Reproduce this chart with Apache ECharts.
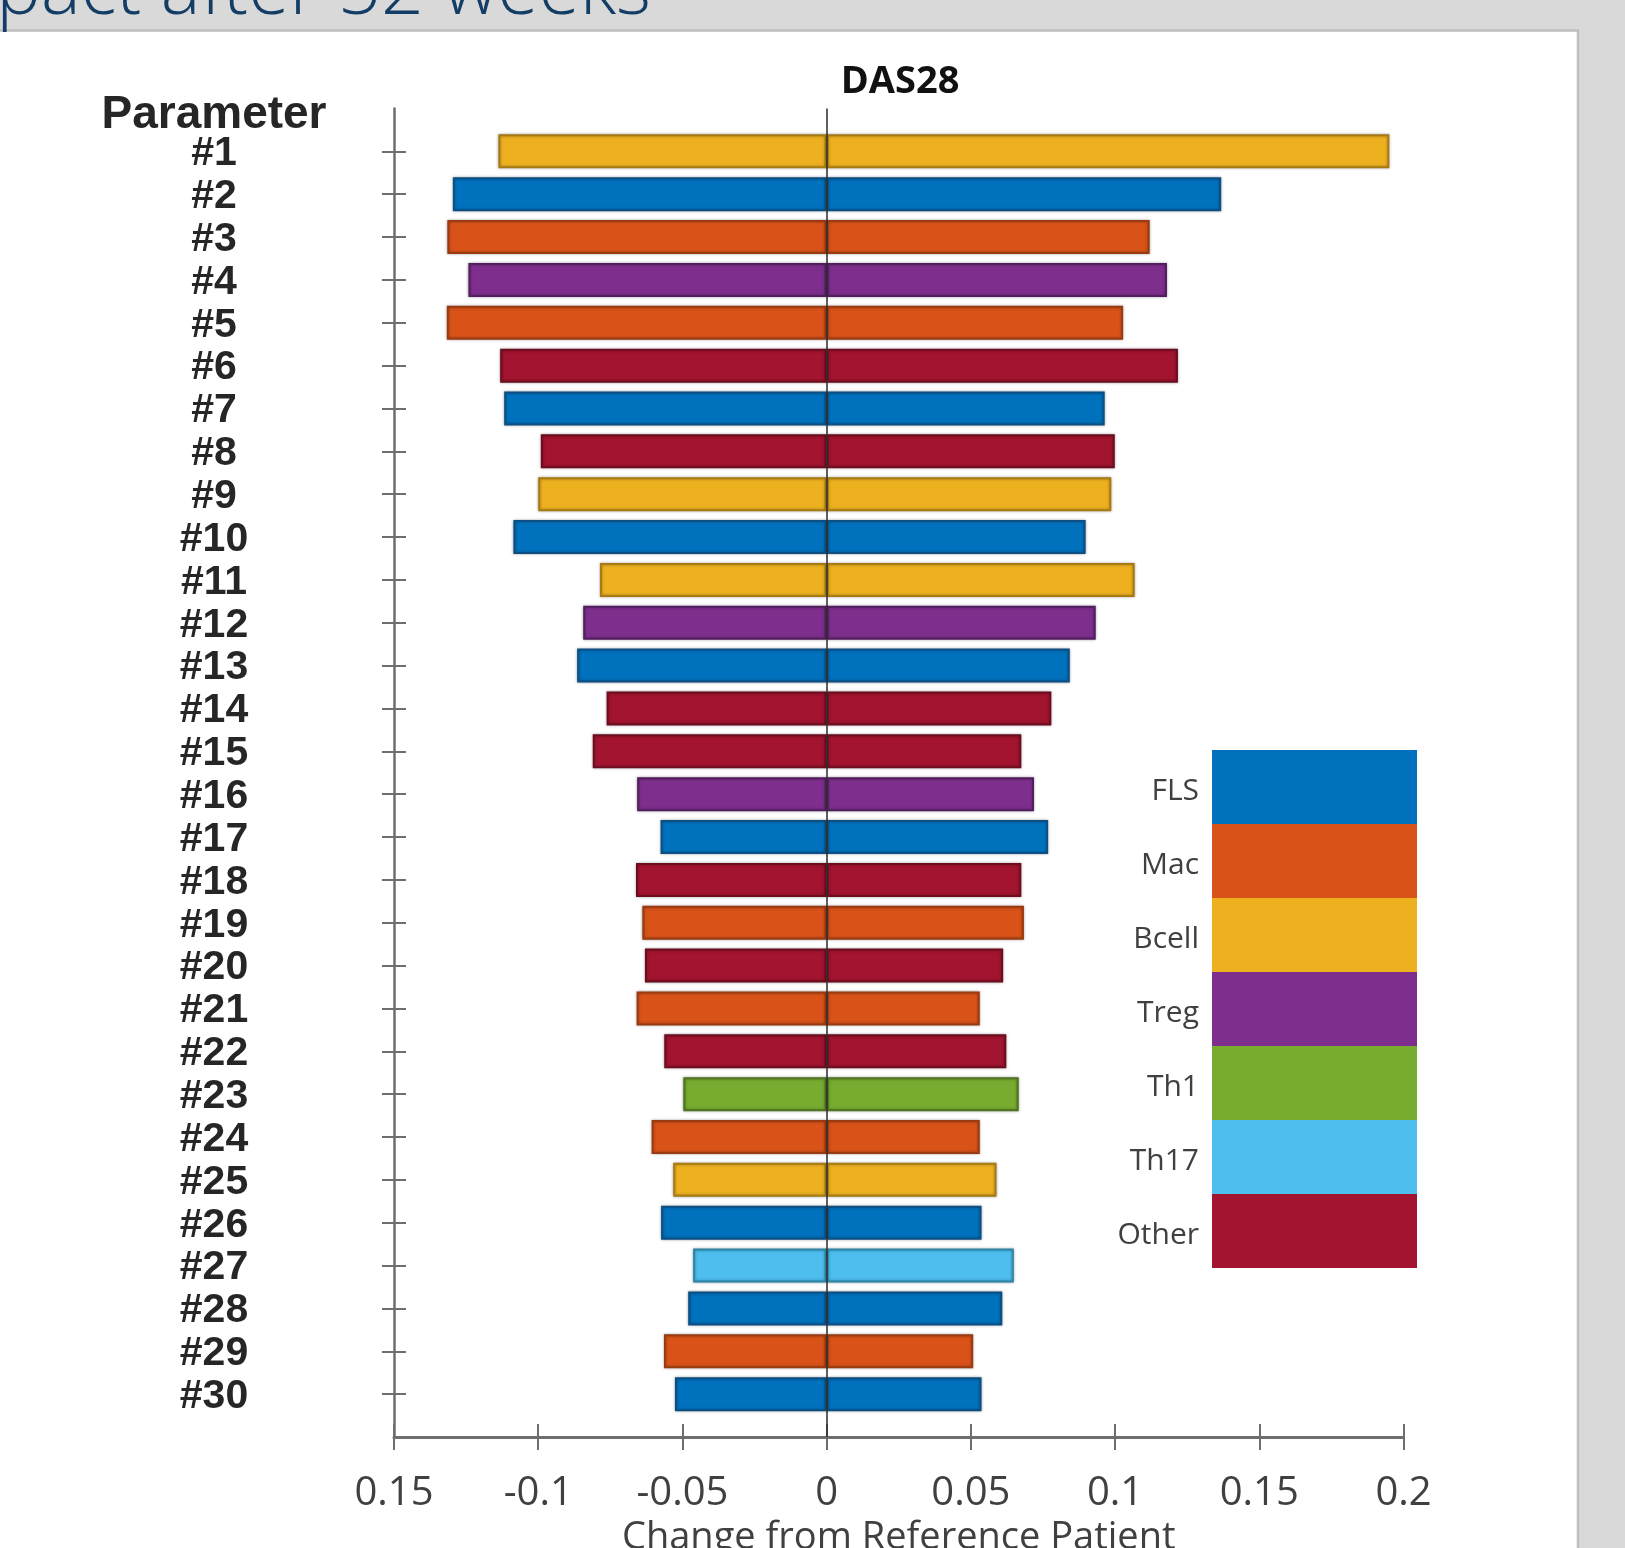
<!DOCTYPE html>
<html>
<head>
<meta charset="utf-8">
<title>DAS28 sensitivity</title>
<script src="https://cdn.jsdelivr.net/npm/echarts@6/dist/echarts.min.js"></script>
<style>
  html, body { margin: 0; padding: 0; background: #d9d9d9; }
  #chart { width: 1625px; height: 1548px; }
</style>
</head>
<body>
<div id="chart"></div>
<script>
// Parameters ranked by their effect on DAS28
const categories = ['#1', '#2', '#3', '#4', '#5', '#6', '#7', '#8', '#9', '#10',
  '#11', '#12', '#13', '#14', '#15', '#16', '#17', '#18', '#19', '#20',
  '#21', '#22', '#23', '#24', '#25', '#26', '#27', '#28', '#29', '#30'];

// Change from reference patient when the parameter is decreased / increased
const negChange = [-0.1138, -0.1296, -0.1315, -0.1242, -0.1317, -0.1132, -0.1118, -0.0991, -0.1000, -0.1086,
  -0.0786, -0.0844, -0.0865, -0.0763, -0.0811, -0.0657, -0.0576, -0.0661, -0.0639, -0.0630,
  -0.0659, -0.0563, -0.0497, -0.0607, -0.0532, -0.0574, -0.0463, -0.0480, -0.0564, -0.0526];
const posChange = [0.1951, 0.1368, 0.1120, 0.1180, 0.1028, 0.1218, 0.0964, 0.0999, 0.0987, 0.0898,
  0.1068, 0.0933, 0.0843, 0.0779, 0.0675, 0.0719, 0.0768, 0.0675, 0.0684, 0.0612,
  0.0531, 0.0623, 0.0666, 0.0531, 0.0589, 0.0537, 0.0649, 0.0609, 0.0508, 0.0537];

// Cell type each parameter belongs to
const cellType = ['Bcell', 'FLS', 'Mac', 'Treg', 'Mac', 'Other', 'FLS', 'Other', 'Bcell', 'FLS',
  'Bcell', 'Treg', 'FLS', 'Other', 'Other', 'Treg', 'FLS', 'Other', 'Mac', 'Other',
  'Mac', 'Other', 'Th1', 'Mac', 'Bcell', 'FLS', 'Th17', 'FLS', 'Mac', 'FLS'];

const groupNames = ['FLS', 'Mac', 'Bcell', 'Treg', 'Th1', 'Th17', 'Other'];
const groupColors = ['#0072bd', '#d95319', '#edb120', '#7e2f8e', '#77ac30', '#4dbeee', '#a2142f'];
const groupEdges = ['#0b4f85', '#9a3a10', '#a87b12', '#531e5e', '#4f7320', '#2d86a8', '#6d0d1f'];

const xTickLabels = ['0.15', '-0.1', '-0.05', '0', '0.05', '0.1', '0.15', '0.2'];

// Category axis padded by an empty slot at each end
const axisCats = [''].concat(categories, ['']);
const realSlot = (i) => i > 0 && i < axisCats.length - 1;

function pick(values, g) {
  return ['-'].concat(values.map((v, i) => (cellType[i] === g ? v : '-')), ['-']);
}

const series = [];
groupNames.forEach((g, gi) => {
  [negChange, posChange].forEach((vals) => {
    series.push({
      type: 'bar',
      name: g,
      stack: 'change',
      barWidth: 34,
      xAxisIndex: 0,
      yAxisIndex: 0,
      silent: true,
      itemStyle: {
        color: groupColors[gi],
        borderColor: groupEdges[gi],
        borderWidth: 2,
        shadowColor: 'rgba(0,0,0,0.32)',
        shadowBlur: 3
      },
      data: pick(vals, g)
    });
  });
});
// zero reference line over the bars
series[series.length - 1].markLine = {
  silent: true,
  symbol: ['none', 'none'],
  label: { show: false },
  lineStyle: { color: '#2a2a2a', width: 1.5, type: 'solid' },
  data: [{ xAxis: 0 }]
};

const labelFont = '"Open Sans", "DejaVu Sans", sans-serif';
const boldFont = '"Liberation Sans", Arial, sans-serif';

const xCommon = {
  type: 'value',
  min: -0.15,
  max: 0.2,
  interval: 0.05,
  position: 'bottom',
  splitLine: { show: false }
};
const yCommon = {
  type: 'category',
  data: axisCats,
  inverse: true,
  boundaryGap: false,
  position: 'left',
  splitLine: { show: false }
};

const option = {
  backgroundColor: '#d9d9d9',
  animation: false,
  grid: {
    left: 394, right: 221.5, top: 108.5, bottom: 111,
    containLabel: false,
    outerBoundsMode: 'none'
  },
  graphic: [
    {
      type: 'rect', z: -10, silent: true,
      shape: { x: -10, y: 30.5, width: 1588, height: 1540 },
      style: { fill: '#ffffff', stroke: '#bfbfbf', lineWidth: 2.5 }
    },
    {
      type: 'text', z: -5, silent: true,
      style: {
        text: 'Impact after 52 weeks', x: 651, y: -7,
        align: 'right', verticalAlign: 'middle',
        font: '300 75px "Open Sans", sans-serif', fill: '#143d66'
      }
    },
    {
      type: 'text', silent: true,
      style: {
        text: 'Parameter', x: 214, y: 115,
        align: 'center', verticalAlign: 'middle',
        font: 'bold 46px ' + boldFont, fill: '#262626'
      }
    },
    {
      type: 'text', silent: true,
      style: {
        text: 'DAS28', x: 900, y: 82,
        align: 'center', verticalAlign: 'middle',
        font: 'bold 38px "Open Sans", sans-serif', fill: '#111111'
      }
    }
  ],
  legend: {
    data: groupNames,
    orient: 'vertical',
    right: 208,
    top: 750,
    padding: 0,
    itemGap: 0,
    itemWidth: 205,
    itemHeight: 74,
    align: 'right',
    icon: 'rect',
    selectedMode: false,
    itemStyle: { borderWidth: 0, shadowBlur: 0 },
    formatter: (name) => '{t|' + name + '}',
    textStyle: {
      rich: {
        t: {
          fontFamily: labelFont, fontSize: 30, color: '#404040',
          padding: [8, 8, 0, 0]
        }
      }
    }
  },
  xAxis: [
    Object.assign({}, xCommon, {
      name: 'Change from Reference Patient',
      nameLocation: 'middle',
      nameGap: 82,
      nameTextStyle: { fontFamily: labelFont, fontSize: 38, color: '#404040' },
      axisLine: { show: true, onZero: false, lineStyle: { color: '#6e6e6e', width: 3 } },
      axisTick: { show: true, inside: false, length: 13, lineStyle: { color: '#6e6e6e', width: 2 } },
      axisLabel: {
        margin: 37,
        fontFamily: labelFont, fontSize: 40, color: '#404040',
        formatter: (v, idx) => xTickLabels[idx]
      }
    }),
    Object.assign({}, xCommon, {
      axisLine: { show: false, onZero: false },
      axisTick: { show: true, inside: true, length: 13, lineStyle: { color: '#6e6e6e', width: 2 } },
      axisLabel: { show: false }
    })
  ],
  yAxis: [
    Object.assign({}, yCommon, {
      axisLine: { show: true, onZero: false, lineStyle: { color: '#6e6e6e', width: 2.5 } },
      axisTick: {
        show: true, inside: false, length: 12,
        interval: (i) => realSlot(i),
        lineStyle: { color: '#6e6e6e', width: 2 }
      },
      axisLabel: {
        interval: 0,
        margin: 180,
        align: 'center',
        formatter: (v) => (v ? '{p|' + v + '}' : ''),
        rich: {
          p: {
            fontFamily: boldFont, fontWeight: 'bold', fontSize: 41, color: '#262626',
            padding: [5, 0, 0, 0]
          }
        }
      }
    }),
    Object.assign({}, yCommon, {
      axisLine: { show: false, onZero: false },
      axisTick: {
        show: true, inside: true, length: 12,
        interval: (i) => realSlot(i),
        lineStyle: { color: '#6e6e6e', width: 2 }
      },
      axisLabel: { show: false }
    })
  ],
  series: series
};

const chart = echarts.init(document.getElementById('chart'), null, { renderer: 'canvas' });
chart.setOption(option);
</script>
</body>
</html>
